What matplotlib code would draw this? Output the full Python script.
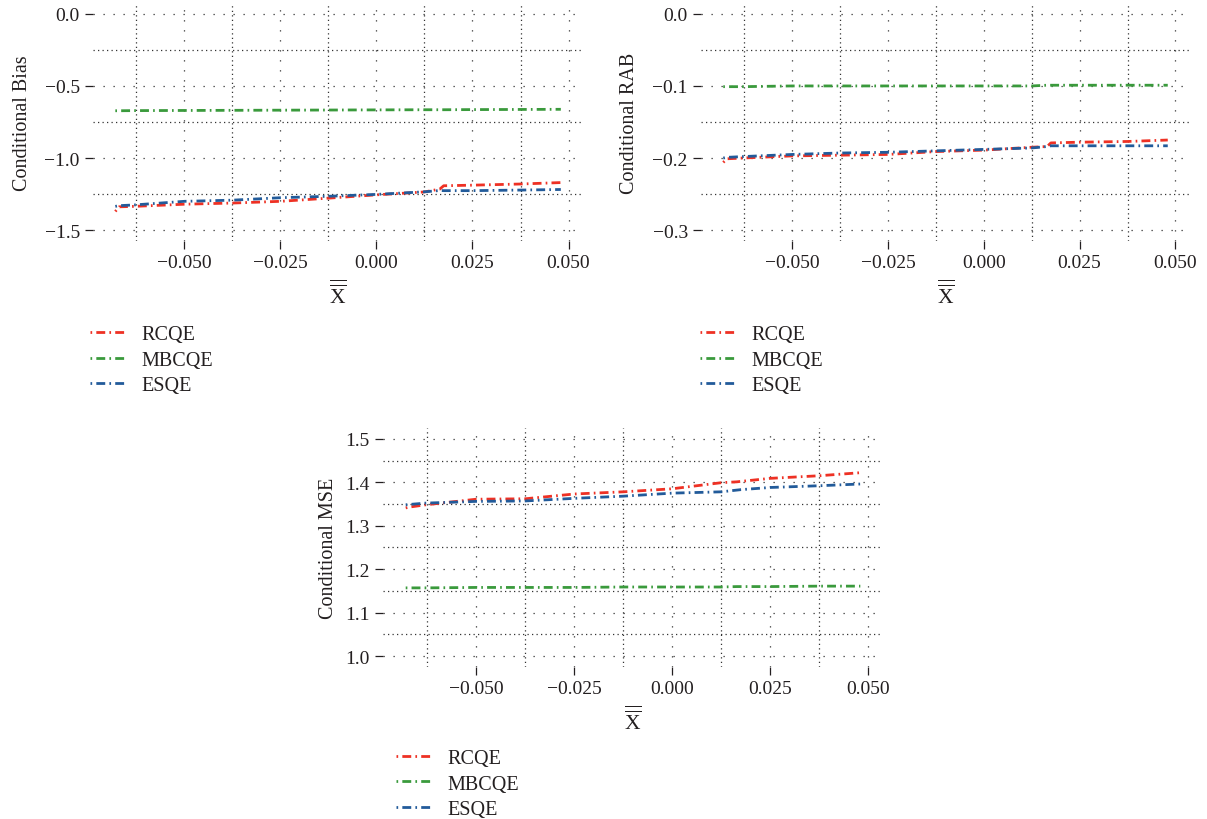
import numpy as np
import matplotlib
matplotlib.use("Agg")
import matplotlib.pyplot as plt
from matplotlib.ticker import MultipleLocator, FuncFormatter

plt.rcParams["font.family"] = ["Liberation Serif", "DejaVu Serif"]
plt.rcParams["mathtext.fontset"] = "custom"
plt.rcParams["mathtext.rm"] = "Liberation Serif"
plt.rcParams["text.color"] = "#231f20"
plt.rcParams["axes.labelcolor"] = "#231f20"
plt.rcParams["xtick.color"] = "#231f20"
plt.rcParams["ytick.color"] = "#231f20"

# grand mean of the subgroup means
xbar = [-0.0680, -0.0670, -0.0630, -0.0500, -0.0375, -0.0250, -0.0125,
        0.0000, 0.0125, 0.0165, 0.0175, 0.0250, 0.0375, 0.0480]

names = ["RCQE", "MBCQE", "ESQE"]

bias_rcqe = [-1.370, -1.338, -1.335, -1.320, -1.312, -1.300, -1.278,
             -1.255, -1.235, -1.215, -1.192, -1.188, -1.180, -1.170]
bias_mbcqe = [-0.672, -0.672, -0.671, -0.670, -0.669, -0.668, -0.667,
              -0.666, -0.665, -0.665, -0.665, -0.664, -0.663, -0.662]
bias_esqe = [-1.335, -1.330, -1.325, -1.300, -1.292, -1.275, -1.265,
             -1.252, -1.234, -1.225, -1.226, -1.226, -1.222, -1.218]

rab_rcqe = [-0.206, -0.201, -0.200, -0.197, -0.196, -0.195, -0.191,
            -0.189, -0.185, -0.184, -0.179, -0.178, -0.177, -0.175]
rab_mbcqe = [-0.101, -0.101, -0.101, -0.100, -0.100, -0.100, -0.100,
             -0.100, -0.100, -0.099, -0.099, -0.099, -0.099, -0.099]
rab_esqe = [-0.200, -0.199, -0.198, -0.195, -0.193, -0.192, -0.190,
            -0.188, -0.186, -0.184, -0.183, -0.183, -0.183, -0.183]

mse_rcqe = [1.341, 1.343, 1.348, 1.361, 1.362, 1.373, 1.378,
            1.385, 1.399, 1.401, 1.402, 1.409, 1.415, 1.422]
mse_mbcqe = [1.157, 1.157, 1.157, 1.158, 1.158, 1.158, 1.159,
             1.159, 1.159, 1.160, 1.160, 1.160, 1.161, 1.161]
mse_esqe = [1.348, 1.349, 1.352, 1.356, 1.357, 1.363, 1.368,
            1.375, 1.378, 1.382, 1.383, 1.388, 1.392, 1.396]

COLORS = ["#ee3124", "#3a9a3c", "#225b9a"]
DASHDOT = (4.7, (3.2, 1.5, 0.6, 1.5))
XLABEL = r"$\overline{\overline{\mathrm{X}}}$"


def _fmt(nd):
    def f(v, _pos):
        if abs(v) < 1e-12:
            v = 0.0
        return f"{v:.{nd}f}".replace("-", "\u2212")
    return FuncFormatter(f)


def _panel(ax, series, ylabel, ylim, ystep, labelpad):
    for y, c, name in zip(series, COLORS, names):
        ax.plot(xbar, y, color=c, lw=2, ls=DASHDOT, label=name, zorder=3)
    ax.set_ylim(*ylim)
    ax.xaxis.set_major_locator(MultipleLocator(0.025))
    ax.xaxis.set_minor_locator(MultipleLocator(0.0125))
    ax.yaxis.set_major_locator(MultipleLocator(ystep))
    ax.yaxis.set_minor_locator(MultipleLocator(ystep / 2))
    ax.xaxis.set_major_formatter(_fmt(3))
    ax.yaxis.set_major_formatter(_fmt(1))
    ax.grid(which="major", ls=(0, (1, 7)), color="#333333", lw=0.9)
    ax.grid(which="minor", ls=(0, (1, 2.6)), color="#333333", lw=0.9)
    ax.set_axisbelow(True)
    for s in ax.spines.values():
        s.set_visible(False)
    ax.tick_params(which="major", length=5.5, width=0.9, direction="out",
                   labelsize=14, pad=4)
    ax.tick_params(which="minor", length=0)
    ax.set_ylabel(ylabel, fontsize=14.5, labelpad=labelpad)
    ax.set_xlabel(XLABEL, fontsize=15.5, labelpad=6)


fig = plt.figure(figsize=(12.07, 8.2), dpi=100)
ax1 = fig.add_axes([0.0771, 0.7049, 0.4060, 0.2902])
ax2 = fig.add_axes([0.5808, 0.7049, 0.4051, 0.2902])
ax3 = fig.add_axes([0.3173, 0.1854, 0.4143, 0.2915])

_panel(ax1, [bias_rcqe, bias_mbcqe, bias_esqe], "Conditional Bias",
       (-1.575, 0.075), 0.5, 9)
_panel(ax2, [rab_rcqe, rab_mbcqe, rab_esqe], "Conditional RAB",
       (-0.315, 0.015), 0.1, 10)
_panel(ax3, [mse_rcqe, mse_mbcqe, mse_esqe], "Conditional MSE",
       (0.975, 1.525), 0.1, 5)

for ax, anchor in [(ax1, (0.0746, 0.6025)), (ax2, (0.5800, 0.6025)),
                   (ax3, (0.3281, 0.0855))]:
    ax.legend(loc="upper left", bbox_to_anchor=anchor,
              bbox_transform=fig.transFigure, frameon=False, borderpad=0,
              borderaxespad=0, handlelength=1.8, handletextpad=0.75,
              labelspacing=0.32, fontsize=14.5)

fig.savefig("out.png", dpi=100)
